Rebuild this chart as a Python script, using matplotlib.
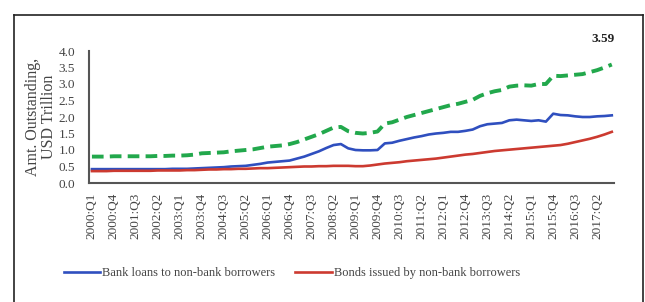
# Outstanding credit to non-bank borrowers
import matplotlib
matplotlib.use("Agg")
import matplotlib.pyplot as plt
from matplotlib.lines import Line2D

# quarters 2000:Q1 .. 2017:Q4
years = list(range(2000, 2018))
quarters = [f"{y}:Q{q}" for y in years for q in range(1, 5)]

bank_loans = [
    0.42, 0.42, 0.42, 0.42,
    0.42, 0.42, 0.42, 0.42,
    0.42, 0.42, 0.42, 0.43,
    0.43, 0.43, 0.44, 0.45,
    0.46, 0.47, 0.48, 0.50,
    0.51, 0.52, 0.55, 0.58,
    0.62, 0.64, 0.66, 0.68,
    0.74, 0.80, 0.88, 0.96,
    1.06, 1.15, 1.18, 1.05,
    1.00, 0.99, 0.99, 1.00,
    1.20, 1.22, 1.28, 1.33,
    1.38, 1.42, 1.47, 1.50,
    1.52, 1.55, 1.55, 1.58,
    1.62, 1.72, 1.78, 1.80,
    1.82, 1.90, 1.92, 1.90,
    1.88, 1.90, 1.86, 2.10,
    2.06, 2.05, 2.02, 2.00,
    2.00, 2.02, 2.03, 2.05,
]

bonds = [
    0.36, 0.36, 0.36, 0.37,
    0.37, 0.37, 0.37, 0.37,
    0.37, 0.38, 0.38, 0.38,
    0.38, 0.39, 0.39, 0.40,
    0.41, 0.41, 0.42, 0.42,
    0.43, 0.43, 0.44, 0.45,
    0.45, 0.46, 0.47, 0.48,
    0.49, 0.50, 0.50, 0.51,
    0.51, 0.52, 0.52, 0.52,
    0.51, 0.51, 0.53, 0.56,
    0.59, 0.61, 0.63, 0.66,
    0.68, 0.70, 0.72, 0.74,
    0.77, 0.80, 0.83, 0.86,
    0.88, 0.91, 0.94, 0.97,
    0.99, 1.01, 1.03, 1.05,
    1.07, 1.09, 1.11, 1.13,
    1.15, 1.19, 1.24, 1.29,
    1.34, 1.40, 1.47, 1.55,
]

total = [
    0.80, 0.80, 0.80, 0.81,
    0.81, 0.81, 0.81, 0.81,
    0.81, 0.82, 0.82, 0.83,
    0.83, 0.84, 0.86, 0.90,
    0.91, 0.92, 0.93, 0.96,
    0.98, 1.00, 1.02, 1.06,
    1.10, 1.12, 1.14, 1.18,
    1.24, 1.32, 1.40, 1.48,
    1.58, 1.68, 1.70, 1.57,
    1.52, 1.50, 1.52, 1.56,
    1.80, 1.84, 1.92, 2.00,
    2.06, 2.12, 2.18, 2.24,
    2.30, 2.36, 2.40, 2.46,
    2.52, 2.64, 2.72, 2.78,
    2.82, 2.92, 2.95, 2.96,
    2.95, 3.00, 3.00, 3.25,
    3.24, 3.26, 3.28, 3.30,
    3.36, 3.42, 3.50, 3.59,
]

end_label = "3.59"

plt.rcParams['font.family'] = ['Liberation Serif', 'DejaVu Serif']

fig = plt.figure(figsize=(6.45, 3.02), dpi=100)

# outer frame (left, top, right)
fx0, fx1, fy1 = 14 / 645, 643 / 645, 1 - 15 / 302
for xs, ys in [([fx0, fx0], [0, fy1]), ([fx0, fx1], [fy1, fy1]), ([fx1, fx1], [fy1, 0])]:
    fig.add_artist(Line2D(xs, ys, color="#222222", lw=1.2, transform=fig.transFigure))

ax = fig.add_axes([89 / 645, 1 - 183 / 302, (614 - 89) / 645, (183 - 51) / 302])

x = list(range(len(quarters)))
ax.plot(x, bank_loans, color="#2f4fbf", lw=1.9, label="Bank loans to non-bank borrowers")
ax.plot(x, bonds, color="#cc3a30", lw=1.9, label="Bonds issued by non-bank borrowers")
ax.plot(x, total, color="#22a84c", lw=2.8, dashes=(3, 1.6))

ax.annotate(end_label, (x[-1], total[-1]), xytext=(-6, 14), textcoords="offset points",
            ha="center", va="bottom", fontsize=9.5, fontweight="bold", color="#222222")

ax.set_xlim(-0.4, len(quarters) - 0.7)
ax.set_ylim(0, 4.0)
ax.set_yticks([i * 0.5 for i in range(9)])
ax.set_yticklabels([f"{i * 0.5:.1f}" for i in range(9)])
ax.set_xticks(x[::3])
ax.set_xticklabels(quarters[::3], rotation=90)

ax.tick_params(axis="y", length=0, pad=10, labelsize=9.5, labelcolor="#444444")
ax.tick_params(axis="x", length=0, pad=7, labelsize=9.5, labelcolor="#444444")

for side in ["top", "right"]:
    ax.spines[side].set_visible(False)
for side in ["left", "bottom"]:
    ax.spines[side].set_color("#555555")
    ax.spines[side].set_linewidth(1.5)

ax.set_ylabel("Amt. Outstanding,\nUSD Trillion", fontsize=11.5, color="#444444",
              labelpad=1, linespacing=1.0)

fig.legend(loc="center", bbox_to_anchor=(292 / 645, 1 - 273 / 302), ncol=2, frameon=False,
           fontsize=9, handlelength=2.9, handletextpad=0.2, columnspacing=1.6,
           labelcolor="#444444")

fig.savefig("out.png", dpi=100)
